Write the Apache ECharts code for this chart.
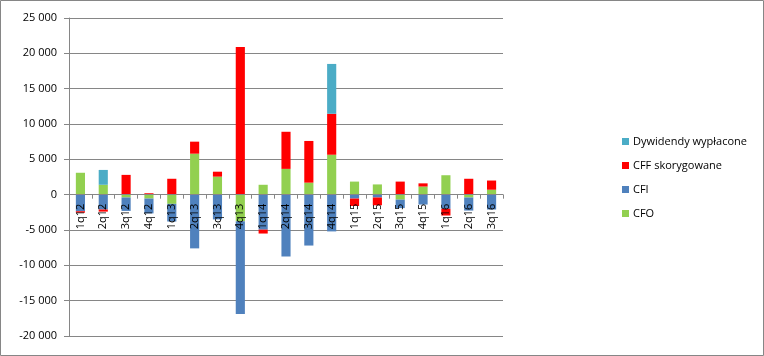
<!DOCTYPE html>
<html>
<head>
<meta charset="utf-8">
<script src="https://cdn.jsdelivr.net/npm/echarts@6/dist/echarts.min.js"></script>
<style>
html,body{margin:0;padding:0;background:#fff;}
#c{width:764px;height:356px;}
</style>
</head>
<body>
<div id="c"></div>
<script>
const categories = ['1q12','2q12','3q12','4q12','1q13','2q13','3q13','4q13','1q14','2q14','3q14','4q14','1q15','2q15','3q15','4q15','1q16','2q16','3q16'];
const cfo  = [3100, 1400, -400, -550, -1300, 5800, 2550, -3750, 1400, 3650, 1700, 5650, 1850, 1450, -700, 1150, 2750, -400, 700];
const cfi  = [-2350, -2100, -1900, -2100, -2500, -7600, -3500, -13150, -4950, -8750, -7200, -5200, -550, -400, -1200, -1400, -2000, -1850, -2100];
const cff  = [-200, -300, 2800, 200, 2250, 1700, 700, 20900, -550, 5250, 5900, 5800, -1050, -1100, 1850, 450, -950, 2250, 1300];
const dyw  = [0, 2100, 0, 0, 0, 0, 0, 0, 0, 0, 0, 7050, 0, 0, 0, 0, 0, 0, 0];
const seriesNames = ['CFO', 'CFI', 'CFF skorygowane', 'Dywidendy wypłacone'];
const legendOrder = ['Dywidendy wypłacone', 'CFF skorygowane', 'CFI', 'CFO'];
const colors = ['#92D050', '#4F81BD', '#FF0000', '#4BACC6'];
const yMin = -20000, yMax = 25000, yStep = 5000;

function fmt(v){
  const s = String(Math.abs(v)).replace(/\B(?=(\d{3})+(?!\d))/g, ' ');
  return (v < 0 ? '-' : '') + s;
}

const gridTop = 18, gridBottom = 20, H = 356;
const plotH = H - gridTop - gridBottom;
// place the category axis at the zero line
const zeroOffset = -plotH * (0 - yMin) / (yMax - yMin);

const chart = echarts.init(document.getElementById('c'), null, {renderer:'canvas'});
const font = 'Open Sans';
const dataArr = [cfo, cfi, cff, dyw];
chart.setOption({
  animation: false,
  textStyle: {fontFamily: font},
  graphic: [{
    type: 'rect', silent: true,
    shape: {x: 0.5, y: 0.5, width: 763, height: 355},
    style: {fill: 'none', stroke: '#868686', lineWidth: 1}
  }],
  grid: {left: 69, right: 261, top: gridTop, bottom: gridBottom, containLabel: false, outerBoundsMode: 'none'},
  legend: {
    orient: 'vertical',
    left: 617,
    top: 131,
    data: legendOrder,
    icon: 'rect',
    itemWidth: 7,
    itemHeight: 7,
    itemGap: 13,
    textStyle: {fontFamily: font, fontSize: 11, color: '#000', padding: [0,0,0,-1]}
  },
  xAxis: {
    type: 'category',
    data: categories,
    z: 5,
    offset: zeroOffset,
    axisLine: {onZero: false, lineStyle: {color: '#868686'}},
    axisTick: {show: true, length: 4, lineStyle: {color: '#868686'}},
    axisLabel: {rotate: 90, interval: 0, color: '#000', fontSize: 11, fontFamily: font, margin: 9}
  },
  yAxis: {
    type: 'value',
    min: yMin, max: yMax, interval: yStep,
    axisLine: {show: true, lineStyle: {color: '#868686'}},
    axisTick: {show: true, length: 5, lineStyle: {color: '#868686'}},
    splitLine: {lineStyle: {color: '#868686'}},
    axisLabel: {color: '#000', fontSize: 11, fontFamily: font, margin: 12, formatter: fmt}
  },
  series: seriesNames.map((n, i) => ({
    name: n,
    type: 'bar',
    stack: 'total',
    barWidth: '40%',
    z: 2,
    itemStyle: {color: colors[i]},
    data: dataArr[i]
  }))
});
</script>
</body>
</html>
